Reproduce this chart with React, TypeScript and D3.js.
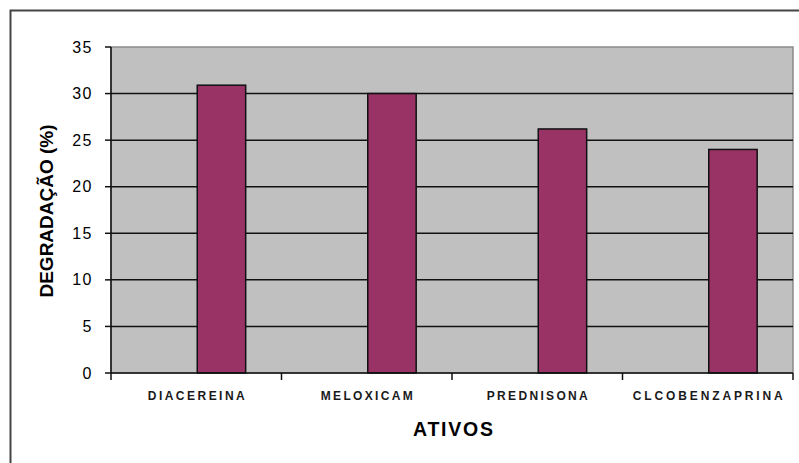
import React from "react";
import * as d3 from "d3";

const categories = ["DIACEREINA", "MELOXICAM", "PREDNISONA", "CLCOBENZAPRINA"];
const degradation = [30.9, 30.0, 26.2, 24.0];
const yTicks = [0, 5, 10, 15, 20, 25, 30, 35];
const labelWidths = [97, 92, 101, 150];

const W = 799;
const H = 463;
const FONT = "'Liberation Sans', Arial, sans-serif";

export default function App() {
  const left = 111;
  const right = 793;
  const top = 47;
  const bottom = 373;

  const x = d3.scaleBand<string>().domain(categories).range([left, right]).padding(0);
  const y = d3.scaleLinear().domain([0, 35]).range([bottom, top]);
  const bw = x.bandwidth();
  const barW = bw * 0.284;

  return (
    <svg
      width={W}
      height={H}
      style={{ position: "fixed", left: 0, top: 0, background: "#fff" }}
      fontFamily={FONT}
    >
      {/* outer frame */}
      <rect x={10.5} y={10.5} width={W + 10} height={H + 10} fill="none" stroke="#444" strokeWidth={2} />

      {/* plot area */}
      <rect x={left} y={top} width={right - left} height={bottom - top} fill="#C0C0C0" stroke="#8a8a8a" strokeWidth={1.5} />

      {/* gridlines */}
      {yTicks.filter((t) => t > 0 && t < 35).map((t) => (
        <line key={t} x1={left} x2={right} y1={y(t)} y2={y(t)} stroke="#111" strokeWidth={1.5} />
      ))}

      {/* bars */}
      {categories.map((c, i) => (
        <rect
          key={c}
          x={(x(c) as number) + bw / 2 + 1}
          y={y(degradation[i])}
          width={barW}
          height={y(0) - y(degradation[i])}
          fill="#993366"
          stroke="#111"
          strokeWidth={1.5}
        />
      ))}

      {/* y axis */}
      <line x1={left} x2={left} y1={top} y2={bottom + 7} stroke="#111" strokeWidth={1.5} />
      {yTicks.map((t) => (
        <g key={t}>
          <line x1={left - 6} x2={left} y1={y(t)} y2={y(t)} stroke="#111" strokeWidth={1.5} />
          <text x={93} y={y(t) + 5.5} textAnchor="end" fontSize={16} letterSpacing={1.5} fill="#000">
            {t}
          </text>
        </g>
      ))}

      {/* x axis */}
      <line x1={left} x2={right} y1={bottom} y2={bottom} stroke="#111" strokeWidth={1.5} />
      {categories.slice(1).map((c) => (
        <line key={c} x1={x(c) as number} x2={x(c) as number} y1={bottom} y2={bottom + 7} stroke="#111" strokeWidth={1.5} />
      ))}
      <line x1={right} x2={right} y1={bottom} y2={bottom + 7} stroke="#111" strokeWidth={1.5} />

      {categories.map((c, i) => (
        <text
          key={c}
          x={(x(c) as number) + bw / 2 - labelWidths[i] / 2}
          y={400}
          fontSize={12}
          fontWeight="bold"
          textLength={labelWidths[i]}
          lengthAdjust="spacing"
          fill="#1a1a1a"
        >
          {c}
        </text>
      ))}

      {/* axis titles */}
      <text x={413} y={436} fontSize={19.5} fontWeight="bold" textLength={80} lengthAdjust="spacing" fill="#000">
        ATIVOS
      </text>
      <text
        transform={`translate(53, ${(top + bottom) / 2 + 1}) rotate(-90)`}
        textAnchor="middle"
        fontSize={19}
        fontWeight="bold"
        fill="#000"
      >
        DEGRADAÇÃO (%)
      </text>
    </svg>
  );
}
